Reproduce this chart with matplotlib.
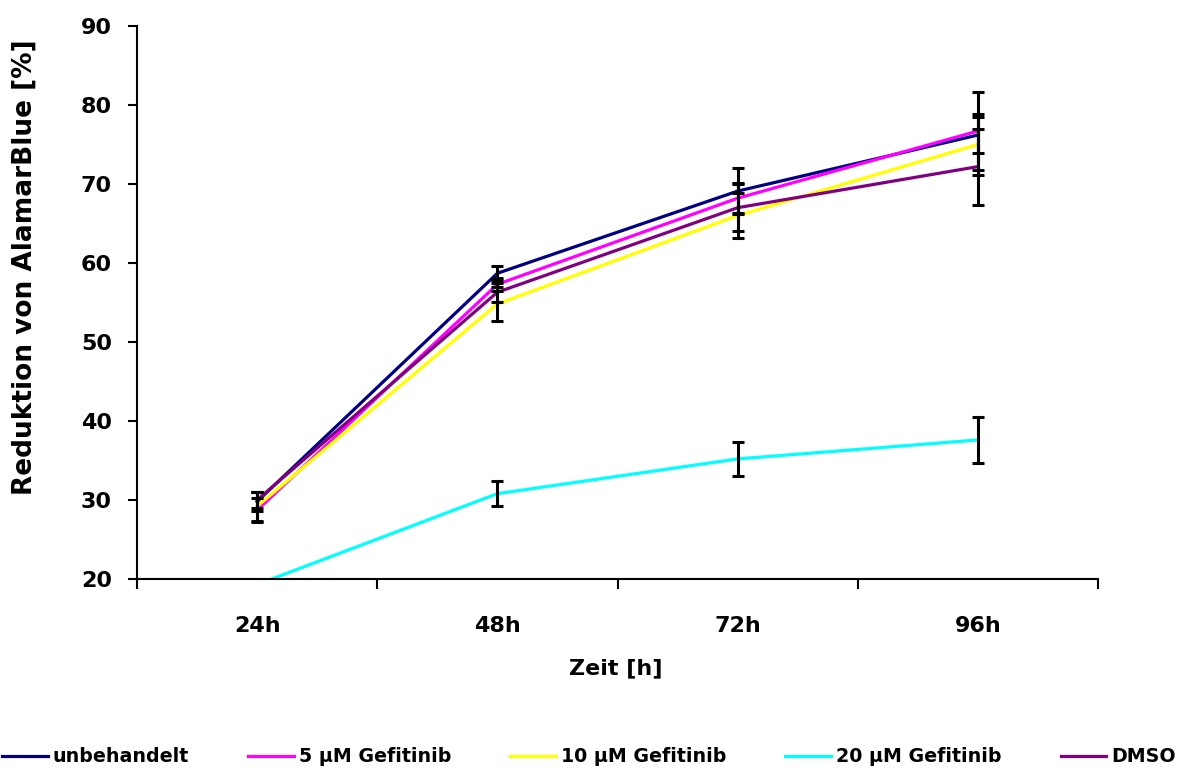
import matplotlib
matplotlib.use('Agg')
import matplotlib.pyplot as plt
import numpy as np

plt.rcParams['font.family'] = ['DejaVu Sans']
plt.rcParams['font.weight'] = 'bold'

zeit = ['24h', '48h', '72h', '96h']
namen = ['unbehandelt', '5 µM Gefitinib', '10 µM Gefitinib', '20 µM Gefitinib', 'DMSO']
farben = ['#000080', '#FF00FF', '#FFFF00', '#00FFFF', '#800080']

unbehandelt = [29.8, 58.7, 69.1, 76.2]
gef5 = [28.7, 57.3, 68.2, 76.7]
gef10 = [29.2, 54.8, 66.0, 75.0]
gef20 = [19.3, 30.8, 35.2, 37.6]
dmso = [30.0, 56.3, 67.0, 72.2]

err_unbeh = [1.2, 0.9, 2.9, 2.3]
err_gef5 = [1.5, 0.8, 1.9, 4.9]
err_gef10 = [1.8, 2.2, 2.8, 3.9]
err_gef20 = [0.5, 1.6, 2.1, 2.9]
err_dmso = [1.0, 1.2, 3.0, 4.8]

werte = [unbehandelt, gef5, gef10, gef20, dmso]
fehler = [err_unbeh, err_gef5, err_gef10, err_gef20, err_dmso]

W, H = 1195, 771
fig = plt.figure(figsize=(W/100, H/100), dpi=100)
ax = fig.add_axes([137/W, 1 - 579/H, (1098-137)/W, (579-26)/H])

x = np.arange(len(zeit))
for w, c, n in zip(werte, farben, namen):
    ax.plot(x, w, color=c, lw=2.3, label=n, zorder=2)
for w, e in zip(werte, fehler):
    ax.errorbar(x, w, yerr=e, fmt='none', ecolor='black', elinewidth=2.2,
                capsize=4.3, capthick=2.2, zorder=3)

ax.set_xlim(-0.5, 3.5)
ax.set_ylim(20, 90)
ax.set_yticks(range(20, 91, 10))
ax.set_xticks(x)
ax.set_xticklabels(zeit)
# Kategorie-Trennstriche zwischen den Zeitpunkten
ax.set_xticks(np.arange(-0.5, 3.6, 1), minor=True)
ax.tick_params(axis='x', which='major', length=0, pad=27, labelsize=16)
ax.tick_params(axis='x', which='minor', length=7, width=1.5, direction='out')
ax.tick_params(axis='y', length=6.5, width=1.5, direction='out', labelsize=16, pad=11.5)

for s in ['top', 'right']:
    ax.spines[s].set_visible(False)
for s in ['left', 'bottom']:
    ax.spines[s].set_linewidth(1.5)

fig.text(616/W, 1 - 668/H, 'Zeit [h]', fontsize=16, fontweight='bold',
         ha='center', va='center')
fig.text(25/W, 1 - 267/H, 'Reduktion von AlamarBlue [%]', fontsize=19,
         fontweight='bold', rotation=90, ha='center', va='center')

fig.legend(loc='center left', bbox_to_anchor=(2/W, 1 - 757/H), ncol=5, frameon=False,
           fontsize=13.7, handlelength=2.4, handletextpad=0.27, columnspacing=3.1,
           borderpad=0, borderaxespad=0)

fig.savefig('out.png', dpi=100)
